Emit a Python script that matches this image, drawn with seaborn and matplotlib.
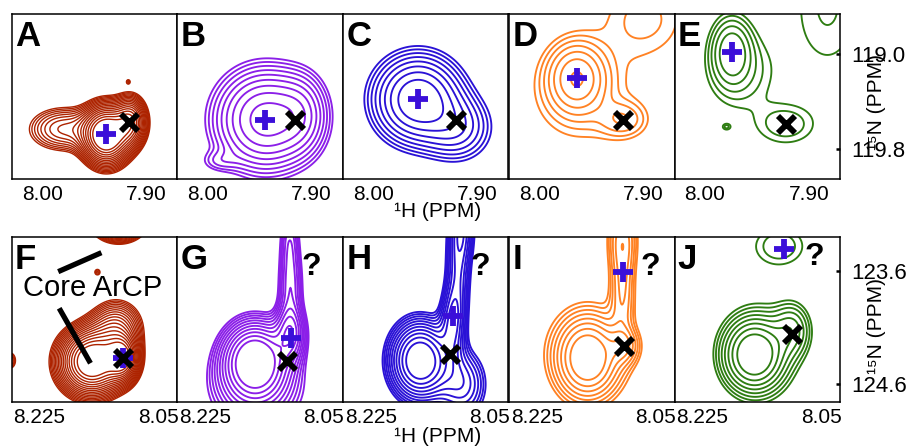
"""HSQC zoom-ins of two ArCP resonances across five samples (panels A-J)."""

import matplotlib

matplotlib.use("Agg")

import matplotlib.pyplot as plt
import numpy as np
import seaborn as sns
from matplotlib.transforms import ScaledTranslation

TOP_LETTERS = ["A", "B", "C", "D", "E"]
BOTTOM_LETTERS = ["F", "G", "H", "I", "J"]
SAMPLE_COLORS = ["#ad2300", "#8b1fe8", "#2a12d6", "#ff8224", "#2e7d12"]
PLUS_COLOR = "#3b0fd9"

# spectral windows (1H left->right, 15N bottom->top)
TOP_H_LIMITS = (8.025, 7.866)
TOP_N_LIMITS = (120.05, 118.66)
TOP_H_TICKS = [8.00, 7.90]
TOP_H_TICKLABELS = ["8.00", "7.90"]
TOP_N_TICKS = [119.0, 119.8]
TOP_N_TICKLABELS = ["119.0", "119.8"]

BOTTOM_H_LIMITS = (8.250, 8.0415)
BOTTOM_N_LIMITS = (124.756, 123.30)
BOTTOM_H_TICKS = [8.225, 8.05]
BOTTOM_H_TICKLABELS = ["8.225", "8.05"]
BOTTOM_N_TICKS = [123.6, 124.6]
BOTTOM_N_TICKLABELS = ["123.6", "124.6"]

# assigned positions (+) and reference positions (x)
TOP_PLUS_H = [7.934, 7.940, 7.953, 7.960, 7.970]
TOP_PLUS_N = [119.67, 119.55, 119.38, 119.20, 118.98]
TOP_CROSS_H = [7.912, 7.912, 7.916, 7.915, 7.918]
TOP_CROSS_N = [119.57, 119.55, 119.55, 119.55, 119.59]

BOTTOM_PLUS_H = [8.110, 8.107, 8.112, 8.107, 8.112]
BOTTOM_PLUS_N = [124.37, 124.19, 124.00, 123.61, 123.41]
BOTTOM_CROSS_H = [8.110, 8.112, 8.115, 8.105, 8.102]
BOTTOM_CROSS_N = [124.37, 124.39, 124.33, 124.26, 124.16]

# peaks: (1H, 15N, 1H width, 15N width, height)
PEAKS_A = [(7.934, 119.68, 0.013, 0.14, 1.0), (7.911, 119.57, 0.009, 0.12, 0.55),
           (7.975, 119.63, 0.022, 0.12, 0.20), (7.913, 119.23, 0.002, 0.02, 0.08)]
PEAKS_B = [(7.940, 119.55, 0.027, 0.24, 1.0), (7.985, 119.90, 0.012, 0.06, 0.12),
           (7.905, 119.50, 0.015, 0.20, 0.30)]
PEAKS_C = [(7.953, 119.38, 0.024, 0.21, 1.0), (7.915, 119.62, 0.020, 0.17, 0.35),
           (7.905, 118.45, 0.020, 0.10, 0.50)]
PEAKS_D = [(7.960, 119.20, 0.016, 0.17, 1.0), (7.915, 119.55, 0.015, 0.10, 0.30),
           (7.955, 119.35, 0.035, 0.30, 0.20), (7.895, 118.70, 0.030, 0.25, 0.20)]
PEAKS_E = [(7.970, 118.98, 0.011, 0.16, 1.0), (7.918, 119.59, 0.020, 0.12, 0.26),
           (7.975, 119.61, 0.003, 0.02, 0.20), (7.878, 118.60, 0.025, 0.40, 0.20),
           (7.960, 119.15, 0.022, 0.22, 0.25)]

PEAKS_F = [(8.149, 124.40, 0.024, 0.17, 1.0), (8.110, 124.37, 0.012, 0.12, 0.70),
           (8.118, 124.10, 0.020, 0.15, 0.30), (8.115, 123.15, 0.018, 0.10, 0.80),
           (8.142, 123.61, 0.004, 0.03, 0.11), (8.252, 124.39, 0.006, 0.06, 0.15)]
PEAKS_G = [(8.152, 124.39, 0.024, 0.20, 1.0), (8.107, 124.15, 0.012, 0.15, 0.45),
           (8.107, 123.75, 0.010, 0.25, 0.30), (8.108, 123.30, 0.008, 0.20, 0.20),
           (8.150, 124.65, 0.040, 0.25, 0.25)]
PEAKS_H = [(8.153, 124.39, 0.022, 0.20, 1.0), (8.112, 124.05, 0.010, 0.20, 0.35),
           (8.105, 123.60, 0.010, 0.30, 0.30), (8.100, 123.20, 0.010, 0.20, 0.30),
           (8.100, 124.60, 0.020, 0.20, 0.30)]
PEAKS_I = [(8.151, 124.37, 0.022, 0.20, 1.0), (8.105, 124.26, 0.012, 0.10, 0.30),
           (8.107, 123.75, 0.010, 0.30, 0.30), (8.107, 123.30, 0.012, 0.20, 0.30),
           (8.150, 124.30, 0.040, 0.30, 0.15)]
PEAKS_J = [(8.150, 124.34, 0.022, 0.18, 1.0), (8.102, 124.12, 0.015, 0.15, 0.30),
           (8.140, 124.30, 0.035, 0.30, 0.15), (8.118, 123.38, 0.028, 0.15, 0.17)]

TOP_PEAKS = [PEAKS_A, PEAKS_B, PEAKS_C, PEAKS_D, PEAKS_E]
BOTTOM_PEAKS = [PEAKS_F, PEAKS_G, PEAKS_H, PEAKS_I, PEAKS_J]

# contour floor, level multiplier and number of levels per panel
TOP_LEVELS = [(0.065, 1.17, 16), (0.10, 1.31, 9), (0.10, 1.33, 8), (0.12, 1.45, 7), (0.12, 1.55, 5)]
BOTTOM_LEVELS = [(0.08, 1.15, 17), (0.10, 1.22, 11), (0.10, 1.22, 11), (0.10, 1.33, 8), (0.10, 1.33, 8)]

# pixel nudges of the tick labels relative to their ticks
TOP_LABEL_SHIFTS = [4.5, 4.5]
BOTTOM_LABEL_SHIFTS = [8.0, -12.0]

UNKNOWN_MARK = "?"
UNKNOWN_X = [0.81, 0.828, 0.853, 0.846]
UNKNOWN_Y = [0.82, 0.82, 0.82, 0.88]
CORE_LABEL = "Core ArCP"


def _spectrum(h, n, peaks):
    z = np.zeros_like(h)
    for h0, n0, wh, wn, amp in peaks:
        z += amp * np.exp(-0.5 * (((h - h0) / wh) ** 2 + ((n - n0) / wn) ** 2))
    return z


def _draw_panel(ax, peaks, level_spec, color, lw, h_lim, n_lim, plus, cross, letter):
    pad_h = abs(h_lim[0] - h_lim[1]) * 0.1
    pad_n = abs(n_lim[0] - n_lim[1]) * 0.1
    h = np.linspace(min(h_lim) - pad_h, max(h_lim) + pad_h, 360)
    n = np.linspace(min(n_lim) - pad_n, max(n_lim) + pad_n, 360)
    hh, nn = np.meshgrid(h, n)
    base, factor, count = level_spec
    levels = base * factor ** np.arange(count)
    ax.contour(hh, nn, _spectrum(hh, nn, peaks), levels=levels, colors=color, linewidths=lw)

    sns.scatterplot(x=[plus[0]], y=[plus[1]], marker="+", s=190, linewidth=4.2,
                    color=PLUS_COLOR, legend=False, ax=ax, zorder=5)
    sns.scatterplot(x=[cross[0]], y=[cross[1]], marker="x", s=150, linewidth=4.2,
                    color="black", legend=False, ax=ax, zorder=6)

    ax.set_xlim(*h_lim)
    ax.set_ylim(*n_lim)
    ax.set_xlabel("")
    ax.set_ylabel("")
    ax.text(0.02, 0.965, letter, transform=ax.transAxes, ha="left", va="top",
            fontsize=25, fontweight="bold", color="black", zorder=7)
    for spine in ax.spines.values():
        spine.set_color("black")
        spine.set_linewidth(1.1)


sns.set_style("white", {"xtick.direction": "in", "ytick.direction": "in",
                        "text.color": "black", "xtick.color": "black", "ytick.color": "black"})
plt.rcParams["font.family"] = ["Liberation Sans", "DejaVu Sans"]

fig = plt.figure(figsize=(9.07, 4.47), dpi=100)
W, H = 907.0, 447.0
LEFTS = [11.7, 177.0, 343.0, 509.0, 674.5]
PANEL_W, PANEL_H = 165.5, 165.0

rows = [
    (179.0, TOP_LETTERS, TOP_PEAKS, TOP_LEVELS, TOP_H_LIMITS, TOP_N_LIMITS,
     TOP_H_TICKS, TOP_H_TICKLABELS, TOP_LABEL_SHIFTS, TOP_N_TICKS, TOP_N_TICKLABELS,
     TOP_PLUS_H, TOP_PLUS_N, TOP_CROSS_H, TOP_CROSS_N),
    (402.0, BOTTOM_LETTERS, BOTTOM_PEAKS, BOTTOM_LEVELS, BOTTOM_H_LIMITS, BOTTOM_N_LIMITS,
     BOTTOM_H_TICKS, BOTTOM_H_TICKLABELS, BOTTOM_LABEL_SHIFTS, BOTTOM_N_TICKS, BOTTOM_N_TICKLABELS,
     BOTTOM_PLUS_H, BOTTOM_PLUS_N, BOTTOM_CROSS_H, BOTTOM_CROSS_N),
]

for r, (bottom_px, letters, peaks, levels, h_lim, n_lim, h_ticks, h_labels, shifts,
        n_ticks, n_labels, plus_h, plus_n, cross_h, cross_n) in enumerate(rows):
    axes = []
    for i in range(5):
        ax = fig.add_axes([LEFTS[i] / W, (H - bottom_px) / H, PANEL_W / W, PANEL_H / H])
        lw = 1.0 if i == 0 else 1.35
        _draw_panel(ax, peaks[i], levels[i], SAMPLE_COLORS[i], lw, h_lim, n_lim,
                    (plus_h[i], plus_n[i]), (cross_h[i], cross_n[i]), letters[i])
        ax.set_xticks(h_ticks)
        ax.set_xticklabels(h_labels, fontsize=15, color="black")
        ax.tick_params(axis="x", direction="in", length=3, width=1.8, pad=4, color="black")
        for label, dx in zip(ax.get_xticklabels(), shifts):
            label.set_transform(label.get_transform()
                                + ScaledTranslation(dx / fig.dpi, 0, fig.dpi_scale_trans))
        if i == 4:
            ax.yaxis.tick_right()
            ax.set_yticks(n_ticks)
            ax.set_yticklabels(n_labels, fontsize=16, color="black")
            ax.tick_params(axis="y", direction="in", length=3, width=1.8, pad=8, color="black",
                           right=True, left=False)
        else:
            ax.set_yticks([])
        if r == 1 and i > 0:
            ax.text(UNKNOWN_X[i - 1], UNKNOWN_Y[i - 1], UNKNOWN_MARK, transform=ax.transAxes,
                    ha="center", va="center", fontsize=23, fontweight="bold", color="black",
                    zorder=7)
        axes.append(ax)

    if r == 1:
        ax_f = axes[0]
        ax_f.text(0.49, 0.69, CORE_LABEL, transform=ax_f.transAxes, ha="center", va="center",
                  fontsize=21, color="black", zorder=7)
        ax_f.plot([0.281, 0.542], [0.79, 0.905], transform=ax_f.transAxes, color="black",
                  lw=3.8, solid_capstyle="butt", zorder=7)
        ax_f.plot([0.287, 0.476], [0.568, 0.235], transform=ax_f.transAxes, color="black",
                  lw=3.8, solid_capstyle="butt", zorder=7)

    center_y = (H - bottom_px + PANEL_H / 2 - 6) / H
    fig.text(877 / W, center_y, "¹⁵N (PPM)", rotation=90, ha="center", va="center",
             fontsize=15, color="black")

fig.text(438 / W, (H - 212) / H, "¹H (PPM)", ha="center", va="center", fontsize=15, color="black")
fig.text(438 / W, (H - 437) / H, "¹H (PPM)", ha="center", va="center", fontsize=15, color="black")

fig.savefig("out.png", dpi=100)
